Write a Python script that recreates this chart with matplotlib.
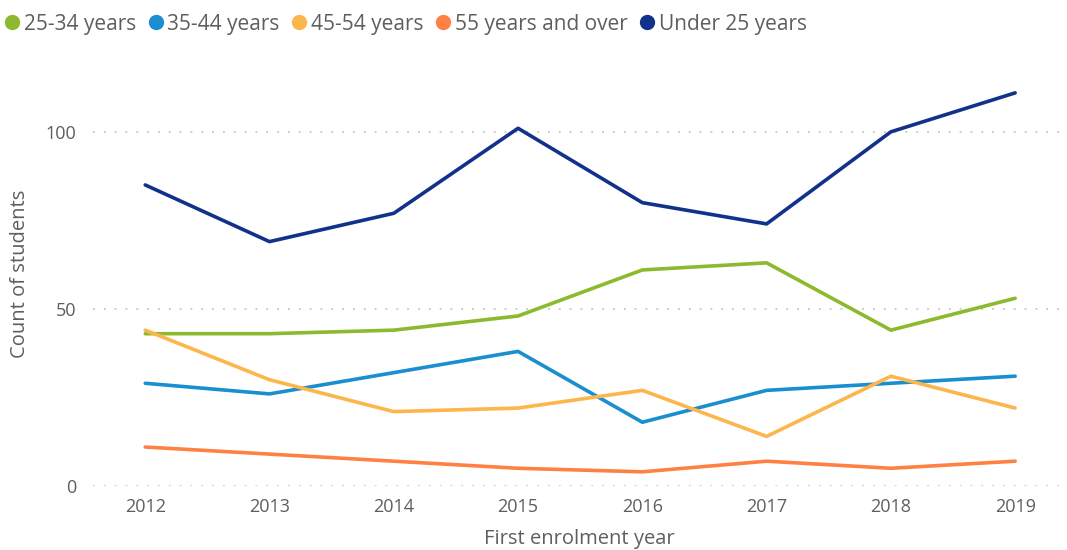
import matplotlib.pyplot as plt
from matplotlib.lines import Line2D

plt.rcParams['font.family'] = ['Open Sans', 'DejaVu Sans']

years = [2012, 2013, 2014, 2015, 2016, 2017, 2018, 2019]
age_25_34 = [43, 43, 44, 48, 61, 63, 44, 53]
age_35_44 = [29, 26, 32, 38, 18, 27, 29, 31]
age_45_54 = [44, 30, 21, 22, 27, 14, 31, 22]
age_55_over = [11, 9, 7, 5, 4, 7, 5, 7]
age_under_25 = [85, 69, 77, 101, 80, 74, 100, 111]

series = [
    ("25-34 years", age_25_34, "#8DB92E"),
    ("35-44 years", age_35_44, "#1A8ECF"),
    ("45-54 years", age_45_54, "#FDB64B"),
    ("55 years and over", age_55_over, "#FF8043"),
    ("Under 25 years", age_under_25, "#12318A"),
]

text_col = "#605E5C"

fig = plt.figure(figsize=(10.67, 5.5), dpi=100)
ax = fig.add_axes([0.0872, 0.1164, 0.9108, 0.7727])

for name, vals, col in series:
    ax.plot(years, vals, color=col, lw=2.6, solid_capstyle='round', label=name)

ax.set_xlim(2011.58, 2019.4)
ax.set_ylim(0, 120)
ax.set_yticks([0, 50, 100])
ax.set_xticks(years)
ax.yaxis.grid(True, linestyle=(0, (1, 5)), color="#C8C6C4", lw=1.3)
ax.set_axisbelow(True)
for s in ax.spines.values():
    s.set_visible(False)
ax.tick_params(length=0, labelsize=13, colors=text_col)
ax.tick_params(axis='x', pad=9)
ax.tick_params(axis='y', pad=12)
ax.set_xlabel("First enrolment year", fontsize=14.5, color=text_col, labelpad=9)
ax.set_ylabel("Count of students", fontsize=14.5, color=text_col, labelpad=11)

handles = [Line2D([], [], marker='o', linestyle='', markersize=10, color=c) for _, _, c in series]
fig.legend(handles, [n for n, _, _ in series], loc='upper left', bbox_to_anchor=(-0.011, 1.0),
           ncol=5, frameon=False, fontsize=15, handletextpad=0.05, columnspacing=0.45,
           handlelength=1.0, borderaxespad=0.25, labelcolor=text_col)

fig.savefig("out.png", dpi=100)
